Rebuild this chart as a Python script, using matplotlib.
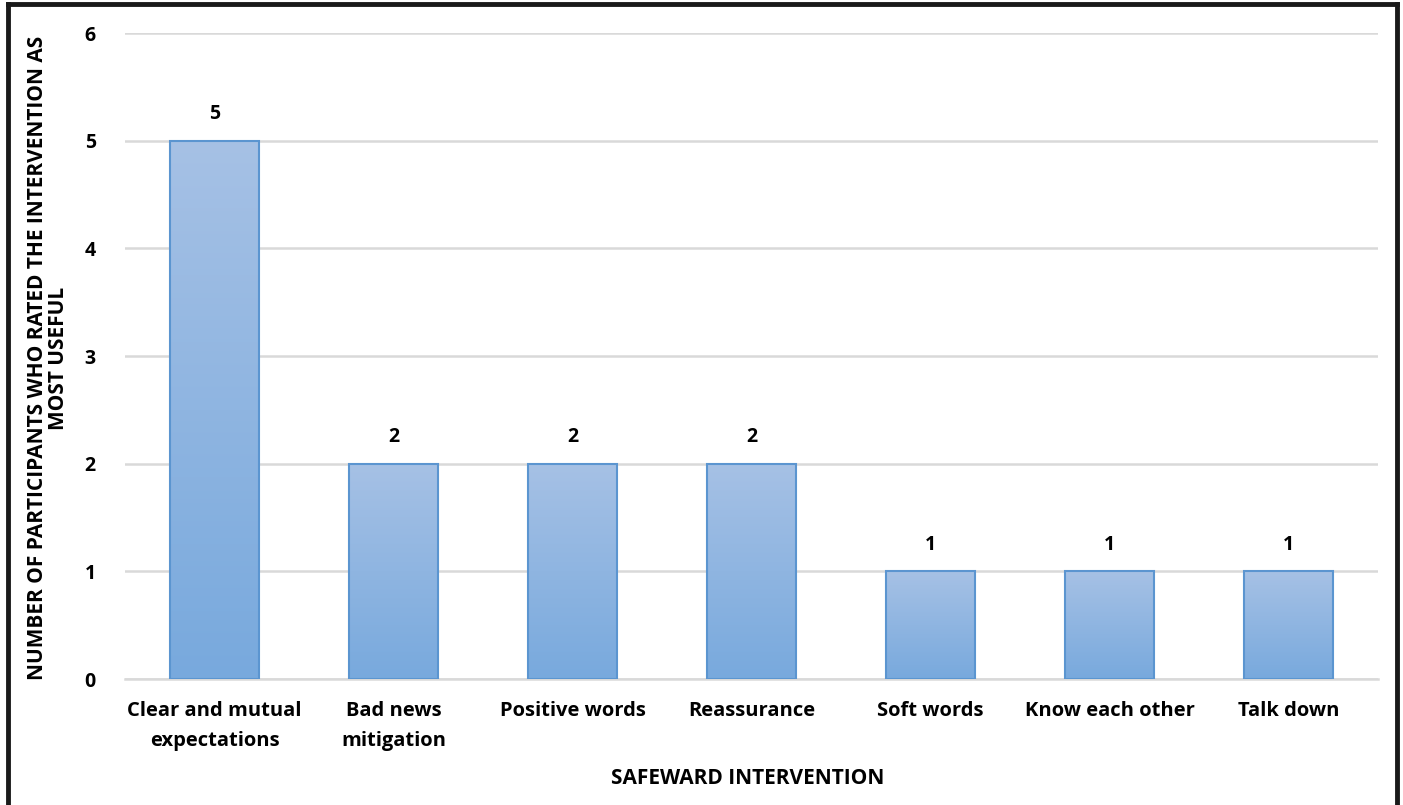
import matplotlib
matplotlib.use("Agg")
import matplotlib.pyplot as plt
import numpy as np
from matplotlib.colors import LinearSegmentedColormap
from matplotlib.lines import Line2D

plt.rcParams["font.family"] = ["Open Sans", "DejaVu Sans"]
plt.rcParams["font.weight"] = "bold"

categories = [
    "Clear and mutual\nexpectations",
    "Bad news\nmitigation",
    "Positive words",
    "Reassurance",
    "Soft words",
    "Know each other",
    "Talk down",
]
counts = [5, 2, 2, 2, 1, 1, 1]
y_ticks = [0, 1, 2, 3, 4, 5, 6]

BAR_TOP = "#a6c1e5"
BAR_BOTTOM = "#78a9dd"
BAR_EDGE = "#5b95d0"
GRID = "#d9d9d9"

fig = plt.figure(figsize=(14.03, 8.05), dpi=100)
ax = fig.add_axes([0.0891, 0.1565, 0.8931, 0.8025])

x = np.arange(len(categories))
bars = ax.bar(x, counts, width=0.5, facecolor="none", edgecolor=BAR_EDGE,
              linewidth=1.5, zorder=3)

# vertical gradient inside each bar, lighter at the top
grad_cmap = LinearSegmentedColormap.from_list("bar", [BAR_BOTTOM, BAR_TOP])
grad = np.linspace(0, 1, 256).reshape(-1, 1)
for rect in bars:
    x0, w, h = rect.get_x(), rect.get_width(), rect.get_height()
    ax.imshow(grad, cmap=grad_cmap, origin="lower", aspect="auto",
              extent=[x0, x0 + w, 0, h], zorder=2, interpolation="bilinear")

for xi, v in zip(x, counts):
    ax.annotate(str(v), (xi, v), xytext=(0, 12), textcoords="offset points",
                ha="center", va="bottom", fontsize=14, fontweight="bold")

ax.set_xlim(-0.5, len(categories) - 0.5)
ax.set_ylim(0, 6)
ax.set_yticks(y_ticks)
ax.set_xticks(x)
ax.set_xticklabels(categories, fontsize=14.5, fontweight="bold", linespacing=1.65)
ax.tick_params(axis="y", labelsize=14, length=0, pad=21)
ax.tick_params(axis="x", length=0, pad=16)
ax.grid(axis="y", color=GRID, linewidth=1.8, zorder=0)
ax.set_axisbelow(True)
for side in ["top", "right", "left"]:
    ax.spines[side].set_visible(False)
ax.spines["bottom"].set_color(GRID)
ax.spines["bottom"].set_linewidth(1.8)

fig.text(748 / 1403, 1 - 778 / 805, "SAFEWARD INTERVENTION",
         ha="center", va="center", fontsize=15, fontweight="bold")
fig.text(48 / 1403, 1 - 358 / 805,
         "NUMBER OF PARTICIPANTS WHO RATED THE INTERVENTION AS\nMOST USEFUL",
         ha="center", va="center", rotation=90, multialignment="center",
         fontsize=15, fontweight="bold", linespacing=0.95)

# dark frame around the figure (open at the bottom)
frame = dict(color="#1a1a1a", linewidth=3.5, transform=fig.transFigure)
fig.add_artist(Line2D([0.0057, 0.0057], [0.0, 0.9945], **frame))
fig.add_artist(Line2D([0.9957, 0.9957], [0.0, 0.9945], **frame))
fig.add_artist(Line2D([0.0057, 0.9957], [0.9945, 0.9945], **frame))

fig.savefig("out.png", dpi=100)
